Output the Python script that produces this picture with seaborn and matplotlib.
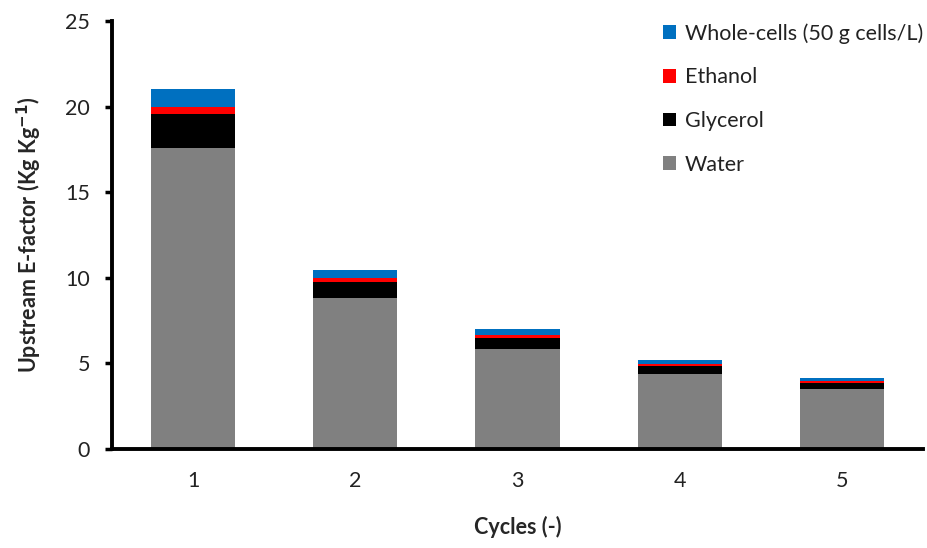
import matplotlib
matplotlib.use("Agg")
import matplotlib.pyplot as plt
from matplotlib.patches import Patch
import numpy as np
import pandas as pd
import seaborn as sns

cycles = ["1", "2", "3", "4", "5"]
water = [17.56, 8.80, 5.82, 4.36, 3.49]
glycerol = [2.03, 0.97, 0.65, 0.47, 0.37]
ethanol = [0.37, 0.24, 0.17, 0.15, 0.10]
whole_cells = [1.05, 0.45, 0.37, 0.22, 0.21]

series = [
    ("Water", water, "#808080"),
    ("Glycerol", glycerol, "#000000"),
    ("Ethanol", ethanol, "#FF0000"),
    ("Whole-cells (50 g cells/L)", whole_cells, "#0070C0"),
]

sns.set_theme(style="white")
plt.rcParams["font.family"] = ["Lato", "DejaVu Sans"]
FS = 15.5

# cumulative heights so each layer can be drawn behind the one below it
stack = np.cumsum(np.array([s[1] for s in series]), axis=0)
df = pd.DataFrame({"cycle": cycles})

fig = plt.figure(figsize=(9.28, 5.48), dpi=100)
ax = fig.add_axes([0.1207, 0.1807, 0.8739, 0.781])

for i in range(len(series) - 1, -1, -1):
    df["h"] = stack[i]
    sns.barplot(data=df, x="cycle", y="h", color=series[i][2], width=0.52,
                saturation=1, ax=ax, errorbar=None, linewidth=0, edgecolor="none")

ax.set_xlim(-0.5, 4.5)
ax.set_ylim(0, 25)
ax.set_yticks([0, 5, 10, 15, 20, 25])
for side in ["top", "right"]:
    ax.spines[side].set_visible(False)
for side in ["left", "bottom"]:
    ax.spines[side].set_color("black")
    ax.spines[side].set_linewidth(2.8)
ax.tick_params(axis="y", direction="out", length=5, width=2.5, color="black",
               labelsize=FS, labelcolor="#222222", pad=11, left=True)
ax.tick_params(axis="x", length=0, labelsize=FS, labelcolor="#222222", pad=16)

ax.set_xlabel("Cycles (-)", fontsize=FS, fontweight="bold", labelpad=17.5)
ax.set_ylabel("Upstream E-factor (Kg Kg$^{\\mathbf{-1}}$)", fontsize=FS,
              fontweight="bold", labelpad=15)

handles = [Patch(facecolor=c, edgecolor="none", label=n) for n, _, c in reversed(series)]
leg = ax.legend(handles=handles, loc="upper right", bbox_to_anchor=(1.016, 1.025),
                frameon=False, fontsize=FS, handlelength=0.6, handleheight=0.6,
                handletextpad=0.4, labelspacing=1.1, borderaxespad=0.2)
for t in leg.get_texts():
    t.set_color("#222222")

fig.savefig("out.png", dpi=100)
